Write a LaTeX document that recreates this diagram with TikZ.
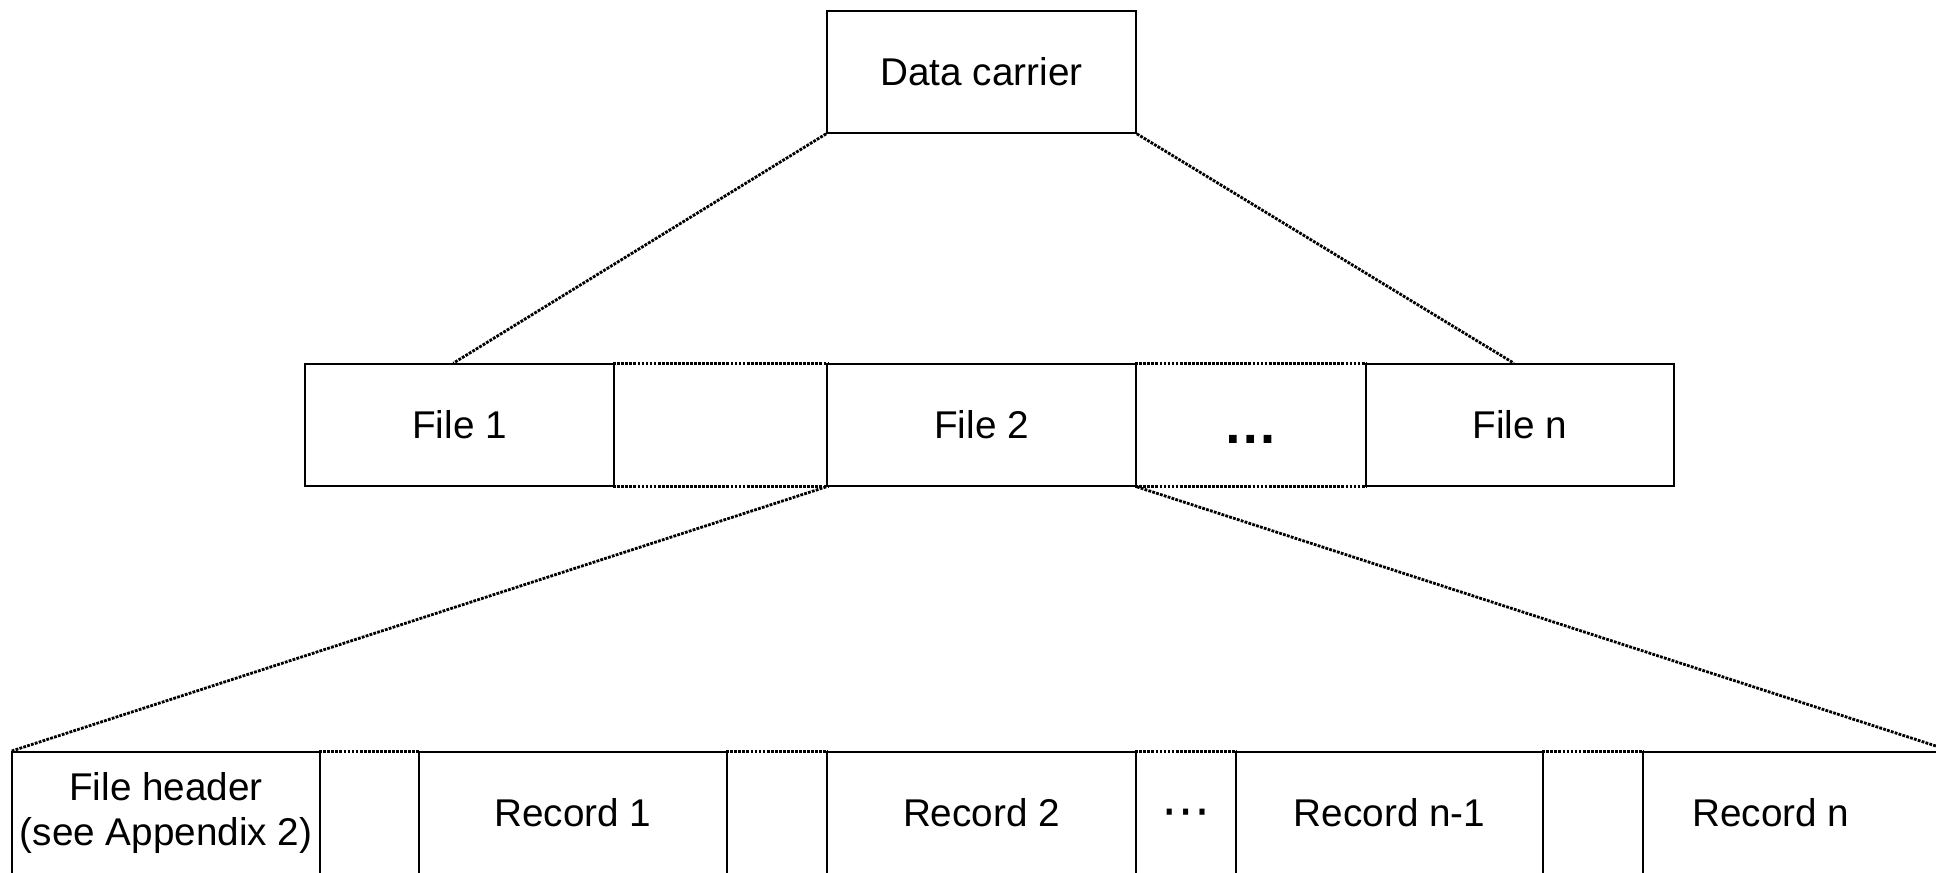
\documentclass[tikz,border=0pt]{standalone}
\usepackage{fontspec}
\setmainfont{Liberation Sans}
\newfontfamily\djv{DejaVu Sans}
\usetikzlibrary{calc}
\begin{document}
\begin{tikzpicture}[x=0.01cm,y=-0.01cm,
  sbox/.style={draw, line width=0.45pt, minimum height=1.22cm, inner sep=0pt, font=\fontsize{11}{13}\selectfont},
  gapbox/.style={minimum height=1.22cm, inner sep=0pt},
  dotline/.style={line width=0.8pt, dash pattern=on 0.8pt off 0.35pt},
  lbl/.style={inner sep=0pt, font=\fontsize{11}{13}\selectfont}
]
\useasboundingbox (0,0) rectangle (1936,872);
\clip (0,0) rectangle (1936,872);

% top
\node[sbox, minimum width=3.09cm] (dc) at (981.5,72) {Data carrier};

% file row
\node[sbox, minimum width=3.09cm] (f1) at (459.5,425) {File 1};
\node[gapbox, minimum width=2.13cm] (g1) at (720.5,425) {};
\node[sbox, minimum width=3.09cm] (f2) at (981.5,425) {File 2};
\node[gapbox, minimum width=2.30cm, font=\fontsize{15.5}{15}\selectfont\bfseries] (g2) at (1251,425) {\vphantom{F}…};
\node[sbox, minimum width=3.08cm] (fn) at (1520,425) {File n};

% record row
\node[sbox, minimum width=3.08cm, align=center] (fh) at (166,813) {File header\\(see Appendix 2)};
\node[gapbox, minimum width=0.99cm] (h1) at (369.5,813) {};
\node[sbox, minimum width=3.08cm] (r1) at (573,813) {Record 1};
\node[gapbox, minimum width=1.00cm] (h2) at (777,813) {};
\node[sbox, minimum width=3.09cm] (r2) at (981.5,813) {Record 2};
\node[gapbox, minimum width=1.00cm, font=\djv\fontsize{14}{14}\selectfont] (h3) at (1186,813) {\raisebox{-0.3em}[0pt][0pt]{⋯}};
\node[sbox, minimum width=3.07cm] (rn1) at (1389.5,813) {Record n-1};
\node[gapbox, minimum width=1.00cm] (h4) at (1593,813) {};
\node[sbox, minimum width=3.08cm] (rn) at (1797,813) {};
\node[lbl] (rnlabel) at (1771,813) {Record n};

% dotted gap edges
\foreach \g in {g1,g2,h1,h2,h3,h4} {
  \draw[dotline] (\g.north west) -- (\g.north east);
  \draw[dotline] (\g.south west) -- (\g.south east);
}

% connectors
\coordinate (f1in) at ($(f1.north west)!0.48!(f1.north east)$);
\coordinate (fnin) at ($(fn.north west)!0.48!(fn.north east)$);
\draw[dotline] (dc.south west) -- (f1in);
\draw[dotline] (dc.south east) -- (fnin);
\draw[dotline] (f2.south west) -- (fh.north west);
\draw[dotline] (f2.south east) -- (rn.north east);
\end{tikzpicture}
\end{document}
